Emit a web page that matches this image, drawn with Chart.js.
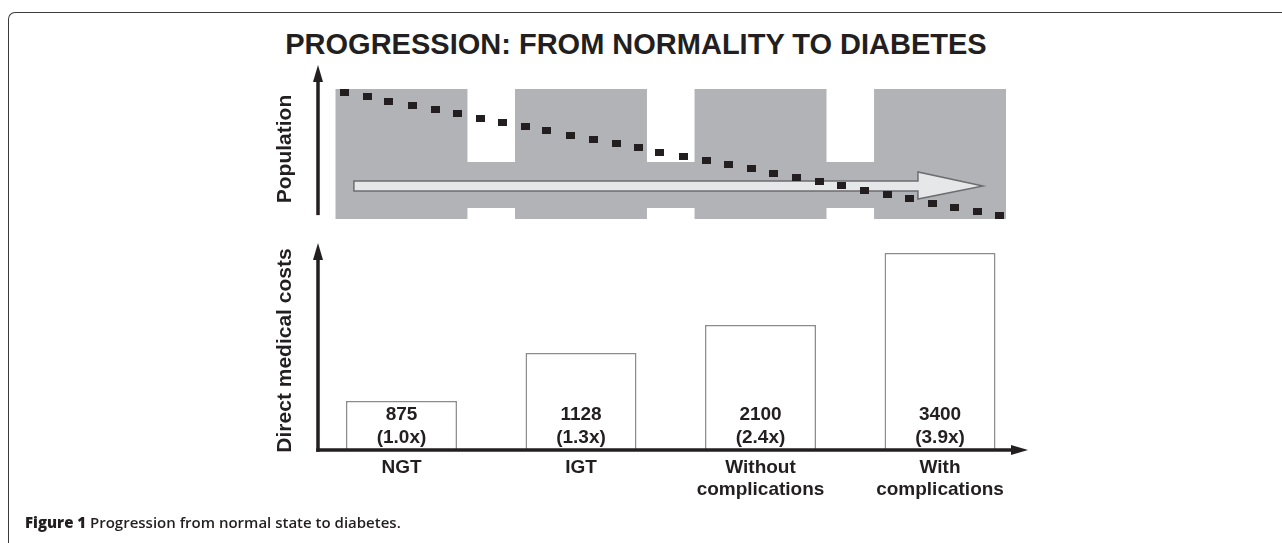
<!DOCTYPE html>
<html>
<head>
<meta charset="utf-8">
<script src="https://cdn.jsdelivr.net/npm/chart.js@4.4.1/dist/chart.umd.min.js"></script>
<style>
  html, body { margin: 0; padding: 0; background: #fff; }
  body { width: 1282px; height: 543px; position: relative; overflow: hidden; }
  .frame { position: absolute; left: 8px; top: 12px; width: 1300px; height: 600px;
    border-top: 1.5px solid #3a3a3a; border-left: 1.5px solid #3a3a3a; border-top-left-radius: 7px; }
  .title { position: absolute; left: 0; top: 30px; width: 1272px; text-align: center;
    font: bold 29px/29px "Liberation Sans", Arial, sans-serif; color: #231f20; }
  #wrap { position: absolute; left: 0; top: 0; width: 1282px; height: 543px; }
  .caption { position: absolute; left: 25px; top: 515px; font: 600 15px/15px "Open Sans", sans-serif;
    color: #231f20; white-space: nowrap; }
  .caption b { font-weight: 800; }
</style>
</head>
<body>
<div class="frame"></div>
<div class="title">PROGRESSION: FROM NORMALITY TO DIABETES</div>
<div id="wrap"><canvas id="chart" width="1282" height="543"></canvas></div>
<div class="caption"><b>Figure 1</b> Progression from normal state to diabetes.</div>
<script>
const categories = ['NGT', 'IGT', ['Without', 'complications'], ['With', 'complications']];
const costLabels = ['875', '1128', '2100', '3400'];
const costRatios = ['(1.0x)', '(1.3x)', '(2.4x)', '(3.9x)'];
// bar heights as drawn in the figure (schematic, not to scale with the costs)
const barHeights = [49, 97, 125, 197];

// population panel, index 0 = foot of the grey blocks, 100 = top
const blockRange = [0, 100];
const bandRange = [8.5, 43.8];
const bandSpan = [-0.36, 3.36];
const trendX = [-0.32, -0.19, -0.07, 0.06, 0.19, 0.31, 0.44, 0.56, 0.69, 0.81, 0.94, 1.07, 1.20, 1.32, 1.44,
  1.57, 1.70, 1.82, 1.95, 2.07, 2.20, 2.33, 2.45, 2.58, 2.71, 2.83, 2.96, 3.08, 3.21, 3.33];
const trendY = [97.5, 94.1, 90.5, 87.5, 84.1, 80.8, 77.5, 74.4, 71.0, 67.7, 64.6, 61.3, 57.9, 54.8, 51.5,
  48.2, 45.0, 41.8, 38.5, 35.2, 32.1, 29.0, 25.4, 22.3, 19.0, 15.9, 12.3, 9.2, 5.9, 2.5];

const ink = '#231f20';
const grey = '#b1b3b6';
const fontFamily = '"Liberation Sans", Arial, Helvetica, sans-serif';

const dot = document.createElement('canvas');
dot.width = 9; dot.height = 7;
const dctx = dot.getContext('2d');
dctx.fillStyle = ink;
dctx.fillRect(0, 0, 9, 7);

function arrow(ctx, x1, y1, x2, y2) {
  const a = Math.atan2(y2 - y1, x2 - x1), len = 17, half = 5;
  const bx = x2 - len * Math.cos(a), by = y2 - len * Math.sin(a);
  ctx.beginPath();
  ctx.moveTo(x1, y1);
  ctx.lineTo(bx + 2 * Math.cos(a), by + 2 * Math.sin(a));
  ctx.stroke();
  ctx.beginPath();
  ctx.moveTo(x2, y2);
  ctx.lineTo(bx - half * Math.sin(a), by + half * Math.cos(a));
  ctx.lineTo(bx + half * Math.sin(a), by - half * Math.cos(a));
  ctx.closePath();
  ctx.fill();
}

const decor = {
  id: 'decor',
  afterDatasetDraw(chart, args) {
    if (args.index !== 1) return;
    // big progression arrow, above the grey blocks but under the dots
    const { x, yPop } = chart.scales;
    const px = v => x.getPixelForValue(v), py = v => yPop.getPixelForValue(v);
    const ctx = chart.ctx;
    ctx.save();
    ctx.beginPath();
    ctx.moveTo(px(-0.265), py(29.2));
    ctx.lineTo(px(2.877), py(29.2));
    ctx.lineTo(px(2.877), py(36.2));
    ctx.lineTo(px(3.239), py(25.4));
    ctx.lineTo(px(2.877), py(15.4));
    ctx.lineTo(px(2.877), py(21.5));
    ctx.lineTo(px(-0.265), py(21.5));
    ctx.closePath();
    ctx.fillStyle = '#e6e7e8';
    ctx.fill();
    ctx.strokeStyle = '#6d6e71';
    ctx.lineWidth = 1.5;
    ctx.stroke();
    ctx.restore();
  },
  afterDraw(chart) {
    const { x, yPop, yCost } = chart.scales;
    const ctx = chart.ctx;
    const xl = x.left;
    ctx.save();
    ctx.strokeStyle = ink;
    ctx.fillStyle = ink;
    ctx.lineWidth = 3.5;
    arrow(ctx, xl, yPop.getPixelForValue(3), xl, yPop.getPixelForValue(118.5));
    arrow(ctx, xl, yCost.getPixelForValue(0) + 1.75, xl, yCost.getPixelForValue(207));
    arrow(ctx, xl - 1.75, yCost.getPixelForValue(0), x.right, yCost.getPixelForValue(0));

    ctx.font = 'bold 19px ' + fontFamily;
    ctx.textAlign = 'center';
    ctx.textBaseline = 'middle';
    chart.getDatasetMeta(3).data.forEach((bar, i) => {
      ctx.fillText(costLabels[i], bar.x, bar.base - 35);
      ctx.fillText(costRatios[i], bar.x, bar.base - 12);
    });
    ctx.restore();
  }
};

new Chart(document.getElementById('chart'), {
  type: 'bar',
  data: {
    datasets: [
      {
        type: 'line', yAxisID: 'yPop', order: 4,
        data: bandSpan.map(v => ({ x: v, y: bandRange[1] })),
        fill: { value: bandRange[0] },
        backgroundColor: grey, borderWidth: 0, pointRadius: 0
      },
      {
        yAxisID: 'yPop', order: 3, grouped: false,
        data: categories.map((c, i) => ({ x: i, y: blockRange })),
        backgroundColor: grey, borderWidth: 0,
        categoryPercentage: 1, barPercentage: 0.735
      },
      {
        type: 'line', yAxisID: 'yPop', order: 1,
        data: trendX.map((v, i) => ({ x: v, y: trendY[i] })),
        showLine: false, pointStyle: dot, pointRadius: 4
      },
      {
        yAxisID: 'yCost', order: 2, grouped: false,
        data: barHeights.map((h, i) => ({ x: i, y: h })),
        backgroundColor: '#ffffff', borderColor: '#8c8c8c', borderWidth: 1.5,
        categoryPercentage: 1, barPercentage: 0.618
      }
    ]
  },
  options: {
    responsive: false,
    animation: false,
    events: [],
    layout: { padding: { left: 250, right: 254, top: 47, bottom: 0 } },
    plugins: { legend: { display: false }, tooltip: { enabled: false }, title: { display: false } },
    scales: {
      x: {
        type: 'linear', min: -0.465, max: 3.49, offset: false,
        grid: { display: false, drawTicks: false, offset: false }, border: { display: false },
        afterBuildTicks: s => { s.ticks = categories.map((c, i) => ({ value: i })); },
        afterFit: s => { s.height = 93; },
        ticks: {
          autoSkip: false, maxRotation: 0, padding: 6, color: ink,
          font: { family: fontFamily, size: 19, weight: 'bold', lineHeight: 1.2 },
          callback: v => categories[v]
        }
      },
      yCost: {
        type: 'linear', position: 'left', stack: 'panels', stackWeight: 199,
        min: 0, max: 199,
        grid: { display: false }, border: { display: false }, ticks: { display: false },
        afterFit: s => { s.width = 68; },
        title: { display: true, text: 'Direct medical costs', color: ink, padding: { top: 23, bottom: 0 },
          font: { family: fontFamily, size: 21, weight: 'bold', lineHeight: 1.2 } }
      },
      yPop: {
        type: 'linear', position: 'left', stack: 'panels', stackWeight: 204,
        min: -24.6, max: 132.3,
        grid: { display: false }, border: { display: false }, ticks: { display: false },
        afterFit: s => { s.width = 68; },
        title: { display: true, text: 'Population', color: ink, padding: { top: 23, bottom: 0 },
          font: { family: fontFamily, size: 21, weight: 'bold', lineHeight: 1.2 } }
      }
    }
  },
  plugins: [decor]
});
</script>
</body>
</html>
